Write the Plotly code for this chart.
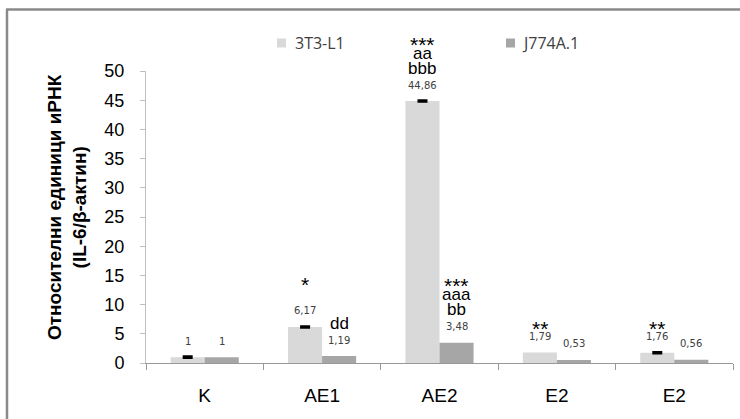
import numpy as np
import plotly.graph_objects as go

# ---- data ----
categories = ["K", "AE1", "AE2", "E2", "E2"]
series_names = ["3T3-L1", "J774A.1"]
vals_3t3 = [1.0, 6.17, 44.86, 1.79, 1.76]
vals_j774 = [1.0, 1.19, 3.48, 0.53, 0.56]
err_3t3 = [0.05, 0.05, 0.05, np.nan, 0.05]
sig_3t3 = [[], ["*"], ["bbb", "aa", "***"], ["**"], ["**"]]
sig_j774 = [[], ["dd"], ["bb", "aaa", "***"], [], []]
y_ticks = [0, 5, 10, 15, 20, 25, 30, 35, 40, 45, 50]
y_title = "Относителни единици иРНК<br>(IL-6/β-актин)"

# ---- layout geometry (pixels) ----
W, H = 740, 419
L, R, T, B = 146, 7, 71, 56
PW, PH = W - L - R, H - T - B
def px(x):
    return (x - L) / PW
def py(y):
    return (H - B - y) / PH

keys = [f"{c}#{i}" for i, c in enumerate(categories)]
c_light = "#d9d9d9"
c_dark = "#a6a6a6"
AX = "Liberation Sans, Arial, sans-serif"

fig = go.Figure()
fig.add_trace(go.Bar(
    x=keys, y=vals_3t3, name=series_names[0], marker_color=c_light,
    marker_line_width=0,
    error_y=dict(type="data", array=np.array(err_3t3, dtype=float), visible=True,
                 color="black", thickness=3, width=5),
))
fig.add_trace(go.Bar(
    x=keys, y=vals_j774, name=series_names[1], marker_color=c_dark,
    marker_line_width=0,
))

def fmt(v):
    return str(int(v)) if float(v).is_integer() else f"{v:.2f}".replace(".", ",")

off = 0.145
annotations = []
# value labels
for i, (a, b) in enumerate(zip(vals_3t3, vals_j774)):
    for xv, v in ((i - off, a), (i + off, b)):
        annotations.append(dict(x=xv, y=v, xref="x", yref="y", text=fmt(v),
                                showarrow=False, yanchor="middle", yshift=16,
                                font=dict(family="DejaVu Sans", size=10, color="#404040")))
# significance labels
for i in range(len(categories)):
    for xv, v, sig in ((i - off, vals_3t3[i], sig_3t3[i]), (i + off, vals_j774[i], sig_j774[i])):
        for k, s in enumerate(sig):
            if len(sig) == 1 and s.startswith("*"):
                sh = 47 if s == "*" else 29
            elif len(sig) == 1:
                sh = 33
            else:
                sh = [33, 48, 62][k]
            star = s.startswith("*")
            annotations.append(dict(x=xv, y=v, xref="x", yref="y", text=s,
                                    showarrow=False, yanchor="middle",
                                    yshift=sh - (5 if star else 0),
                                    font=dict(family=AX, size=21 if star else 17, color="black")))
# y axis title
annotations.append(dict(x=px(67), y=py(207), xref="paper", yref="paper", text=y_title,
                        showarrow=False, textangle=-90, xanchor="center", yanchor="middle",
                        font=dict(family=AX, size=19, color="black", weight="bold")))
# legend (manual)
leg = [(277, 293, c_light, series_names[0]), (506, 520, c_dark, series_names[1])]
shapes = []
for sx, tx, col, name in leg:
    shapes.append(dict(type="rect", xref="paper", yref="paper",
                       x0=px(sx), x1=px(sx + 9), y0=py(47.5), y1=py(38.5),
                       fillcolor=col, line_width=0))
    annotations.append(dict(x=px(tx), y=py(43), xref="paper", yref="paper", text=name,
                            showarrow=False, xanchor="left", yanchor="middle",
                            font=dict(family="Open Sans, sans-serif", size=16, color="#404040")))
# outer frame (top and left only)
frame = "#8a8a8a"
shapes.append(dict(type="line", xref="paper", yref="paper", x0=px(6), x1=px(741),
                   y0=py(9.5), y1=py(9.5), line=dict(color=frame, width=2.5)))
shapes.append(dict(type="line", xref="paper", yref="paper", x0=px(7), x1=px(7),
                   y0=py(9.5), y1=py(420), line=dict(color=frame, width=2.5)))

fig.update_layout(
    width=W, height=H, margin=dict(l=L, r=R, t=T, b=B),
    barmode="group", bargap=0.42, bargroupgap=0,
    plot_bgcolor="white", paper_bgcolor="white", showlegend=False,
    annotations=annotations, shapes=shapes,
)
fig.update_xaxes(
    type="category", tickvals=keys, ticktext=categories, tickson="boundaries",
    ticks="outside", ticklen=6, tickcolor="#999999", showline=True, linecolor="#999999",
    linewidth=1, showgrid=False, range=[-0.5, len(categories) - 0.5],
    tickfont=dict(family=AX, size=19, color="black"), ticklabelstandoff=15,
)
fig.update_yaxes(
    range=[0, 50], tickvals=y_ticks, ticks="outside", ticklen=5, tickcolor="#bfbfbf",
    showline=True, linecolor="#bfbfbf", linewidth=1, showgrid=False, zeroline=False,
    tickfont=dict(family=AX, size=18, color="black"), ticklabelstandoff=12,
)
fig.write_html("out.html")
